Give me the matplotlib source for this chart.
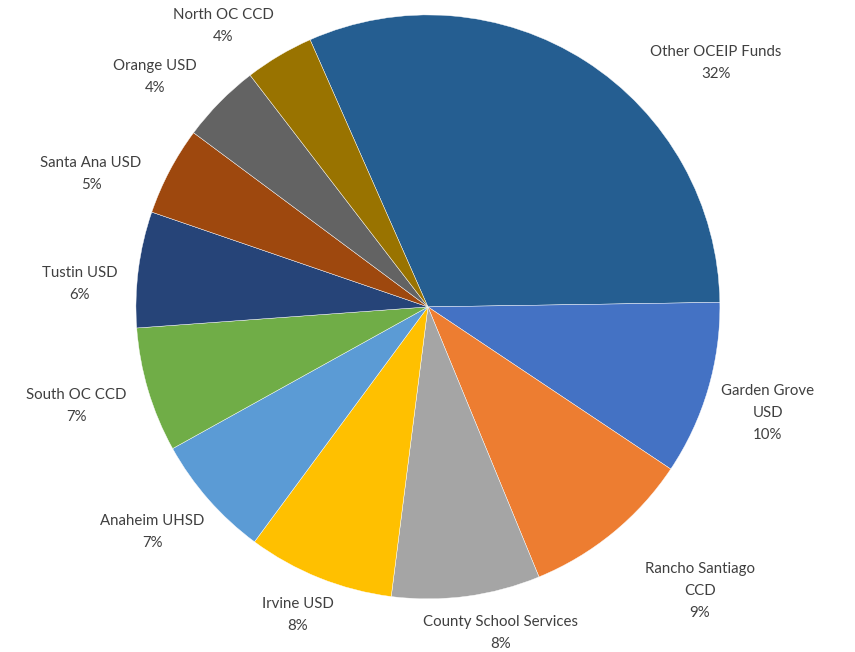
import matplotlib
matplotlib.use('Agg')
import matplotlib.pyplot as plt

# slice data, clockwise from the top
names = ['Other OCEIP Funds', 'Garden Grove\nUSD', 'Rancho Santiago\nCCD',
         'County School Services', 'Irvine USD', 'Anaheim UHSD', 'South OC CCD',
         'Tustin USD', 'Santa Ana USD', 'Orange USD', 'North OC CCD']
shares = [31.3, 9.6, 9.4, 8.2, 8.1, 6.8, 6.9, 6.4, 4.9, 4.4, 3.8]
pct_labels = [32, 10, 9, 8, 8, 7, 7, 6, 5, 4, 4]
colors = ['#255E91', '#4472C4', '#ED7D31', '#A5A5A5', '#FFC000', '#5B9BD5',
          '#70AD47', '#264478', '#9E480E', '#636363', '#997300']

# label centres (data coords, pie radius = 1)
label_pos = [(0.986, 0.836), (1.164, -0.363), (0.932, -0.973), (0.25, -1.116),
             (-0.445, -1.055), (-0.945, -0.771), (-1.205, -0.339), (-1.192, 0.079),
             (-1.154, 0.455), (-0.935, 0.788), (-0.702, 0.962)]

plt.rcParams['font.family'] = ['Lato', 'DejaVu Sans']

fig = plt.figure(figsize=(8.55, 6.52), dpi=100)
ax = fig.add_axes([0.159, 0.0813, 0.683, 0.896])

ax.pie(shares, colors=colors, startangle=113.8, counterclock=False,
       wedgeprops=dict(edgecolor='white', linewidth=0.3))
ax.set_xlim(-1, 1)
ax.set_ylim(-1, 1)
ax.set_aspect('equal')

for name, pct, pos in zip(names, pct_labels, label_pos):
    ax.text(pos[0], pos[1], '%s\n%d%%' % (name, pct), ha='center', va='center',
            fontsize=10.8, color='#404040', linespacing=1.75)

fig.savefig('out.png', dpi=100)
